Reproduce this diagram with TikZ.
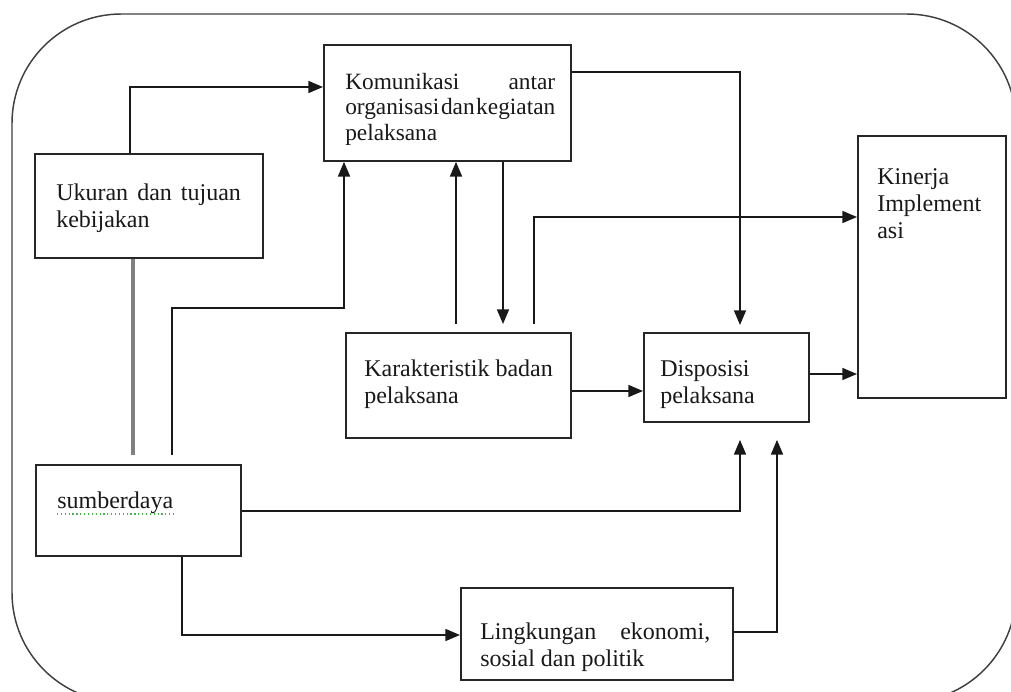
\documentclass[tikz,border=0pt]{standalone}
\usepackage{fontspec}
\setmainfont{Liberation Serif}
\usetikzlibrary{arrows.meta,calc}
\begin{document}
\begin{tikzpicture}[x=0.75pt,y=-0.75pt,
  box/.style={draw=black!85,line width=1.4pt,inner sep=0pt,anchor=north west},
  txt/.style={anchor=base west,inner sep=0pt,align=left,text=black!90,
    font=\fontsize{18}{20}\selectfont},
  conn/.style={line width=1.2pt,draw=black!90},
  arr/.style={conn,-{Triangle[length=11pt,width=9pt]}},
  grayline/.style={line width=2.4pt,draw=black!50},
  frame/.style={line width=1.1pt,draw=black!75,rounded corners=82pt},
]
\useasboundingbox (0,0) rectangle (1011,692);
\clip (0,0) rectangle (1011,692);
\fill[white] (0,0) rectangle (1011,692);

% outer frame
\draw[frame] (12,14) rectangle (1016,702);

% boxes
\node[box,minimum width=185.25pt,minimum height=87pt]    (kom) at (323,44)  {};
\node[box,minimum width=171pt,minimum height=78pt]       (uku) at (34,153)  {};
\node[box,minimum width=111pt,minimum height=196.5pt]    (kin) at (857,135) {};
\node[box,minimum width=168.75pt,minimum height=78.75pt] (kar) at (345,332) {};
\node[box,minimum width=123.75pt,minimum height=66.75pt] (dis) at (643,332) {};
\node[box,minimum width=153.75pt,minimum height=68.25pt] (sum) at (35,464)  {};
\node[box,minimum width=204pt,minimum height=69pt]       (lin) at (460,587) {};

% texts (anchor = baseline of the last line)
\node[txt,font=\fontsize{17.5}{19.5}\selectfont] (tkom) at (345,141)
  {\makebox[157.5pt][s]{Komunikasi antar}\\
   \makebox[157.5pt][s]{\spaceskip=0.1em plus 0.1em minus 0.05em\relax organisasi dan kegiatan}\\ pelaksana};
\node[txt] (tuku) at (56,227) {\makebox[138.5pt][s]{Ukuran dan tujuan}\\ kebijakan};
\node[txt] (tkin) at (877,238) {Kinerja\\ Implement\\ asi};
\node[txt] (tkar) at (364,403) {Karakteristik badan\\ pelaksana};
\node[txt] (tdis) at (660,403) {Disposisi\\ pelaksana};
\node[txt] (tsum) at (57,508) {sumberdaya};
\node[txt] (tlin) at (480,666) {\makebox[172.5pt][s]{Lingkungan ekonomi,}\\ sosial dan politik};
\draw[green!55!black!70,line width=0.9pt,dotted] ($(tsum.base west)+(0,6)$) -- ($(tsum.base east)+(0,6)$);

% helper coordinates
\coordinate (p1) at (130,87);
\coordinate (g)  at (133,0);
\coordinate (p3) at (172,308);
\coordinate (p3b) at (344,308);
\coordinate (x456) at (456,0);
\coordinate (x503) at (503,0);
\coordinate (p6) at (534,217);
\coordinate (p7) at (740,72);
\coordinate (y391) at (0,391);
\coordinate (y374) at (0,374);
\coordinate (p10) at (740,511);
\coordinate (p11) at (182,635);
\coordinate (p12) at (777,632);

% connectors
\draw[arr] (uku.north -| p1) |- (kom.west |- p1);
\draw[grayline] (uku.south -| g) -- ($(sum.north -| g)+(0,-9)$);
\draw[arr] ($(sum.north -| p3)+(0,-9)$) |- (p3b) -- (kom.south -| p3b);
\draw[arr] ($(kar.north -| x456)+(0,-8)$) -- (kom.south -| x456);
\draw[arr] (kom.south -| x503) -- ($(kar.north -| x503)+(0,-8)$);
\draw[arr] ($(kar.north -| p6)+(0,-8)$) |- (kin.west |- p6);
\draw[arr] (kom.east |- p7) -| ($(dis.north -| p7)+(0,-7)$);
\draw[arr] (kar.east |- y391) -- (dis.west |- y391);
\draw[arr] (dis.east |- y374) -- (kin.west |- y374);
\draw[arr] (sum.east |- p10) -| ($(dis.south -| p10)+(0,17)$);
\draw[arr] (sum.south -| p11) |- (lin.west |- p11);
\draw[arr] (lin.east |- p12) -| ($(dis.south -| p12)+(0,17)$);
\end{tikzpicture}
\end{document}
